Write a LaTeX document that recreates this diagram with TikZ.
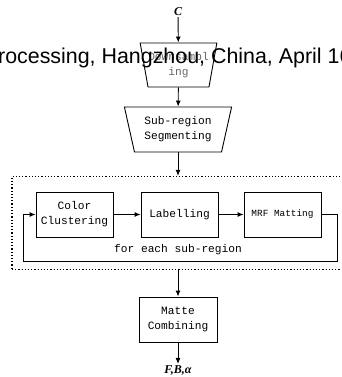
\documentclass[tikz,border=0pt]{standalone}
\usepackage{fontspec}
\setmonofont{Liberation Mono}
\newfontfamily\headfont{Liberation Sans}
\newfontfamily\symfont{Liberation Serif}
\usetikzlibrary{arrows.meta, shapes.geometric, positioning}

\begin{document}
\begin{tikzpicture}[x=1pt, y=-1pt,
                block/.style={draw, line width=0.9pt, minimum width=77pt, minimum height=45pt, inner sep=0pt,
                    align=center, font=\ttfamily\fontsize{11.2}{15}\selectfont},
                funnel/.style={block, trapezium, shape border rotate=180, trapezium stretches=true, trapezium angle=73},
                edge/.style={-{Latex[length=6pt,width=5pt]}, line width=0.9pt},
                group/.style={draw, dotted, line width=1.2pt, minimum width=340pt, minimum height=93pt},
                io/.style={font=\symfont\bfseries\itshape\fontsize{12}{14}\selectfont, inner sep=1pt}
            ]
            \useasboundingbox (0,0) rectangle (341,377);
            \clip (0,0) rectangle (341,377);
            \node[io] (c) at (178,12) {C};
            \node[funnel, minimum width=77pt, minimum height=44pt, text=black!60] (down) at (178.5,65) {Downsampl\\ing};
            \node[funnel, minimum width=108pt, minimum height=45pt] (seg) at (178,129.5) {Sub-region\\Segmenting};
            \node[group] (loop) at (182,223) {};
            \node[block] (color) at (74.5,214.5) {Color\\Clustering};
            \node[block] (label) at (179.5,214.5) {Labelling};
            \node[block, font=\ttfamily\fontsize{9.4}{12}\selectfont] (mrf) at (282.5,214.5) {MRF Matting};
            \node[font=\ttfamily\fontsize{11.2}{15}\selectfont] (each) at (178,250) {for each sub-region};
            \node[block, minimum width=78pt] (matte) at (178,319.5) {Matte\\Combining};
            \node[io] (fba) at (178,370) {F,B,α};
            \coordinate (loopR) at (337,261);
            \coordinate (loopL) at (23,261);

            \draw[edge] (c) -- (down);
            \draw[edge] (down) -- (seg);
            \draw[edge] (seg.south) -- (seg.south |- loop.north);
            \draw[edge] (color) -- (label);
            \draw[edge] (label) -- (mrf);
            \draw[edge] (mrf.east) -| (loopR) -- (loopL) |- (color.west);
            \draw[edge] (matte.north |- loop.south) -- (matte);
            \draw[edge] (matte) -- (fba);

            \node[font=\headfont\fontsize{21.4}{24}\selectfont, anchor=base west, inner sep=0pt] (header) at (-16.3,64)
                {Processing, Hangzhou, China, April 16};
            \end{tikzpicture}
\end{document}
